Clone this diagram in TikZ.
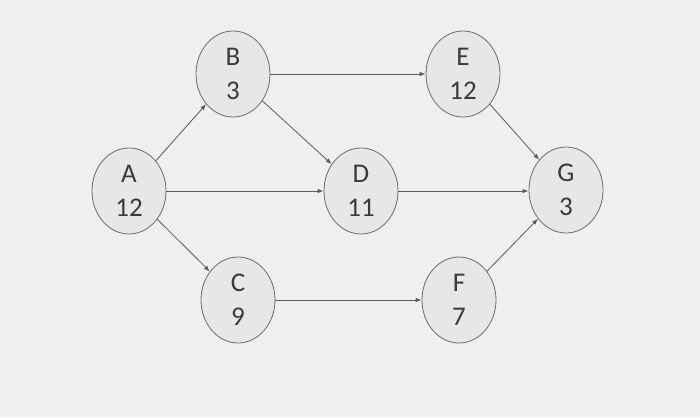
\documentclass[tikz,border=0pt]{standalone}
\usepackage{fontspec}
\setmainfont{Carlito}
\usetikzlibrary{arrows.meta,shapes.geometric}
\definecolor{bgc}{HTML}{EEF0EE}
\definecolor{nodefill}{HTML}{E6E8E6}
\definecolor{nodeline}{HTML}{6A6A6A}
\definecolor{edgec}{HTML}{5A5A5A}
\definecolor{txt}{HTML}{3A3A3A}
\tikzset{
  evt/.style={ellipse, draw=nodeline, line width=0.8pt, fill=nodefill,
    minimum width=74pt, minimum height=86pt, inner sep=0pt,
    align=center, font=\fontsize{27}{34}\selectfont, text=txt},
  link/.style={draw=edgec, line width=0.8pt, -{Latex[length=6pt,width=4.5pt]}}
}
\begin{document}
\begin{tikzpicture}[x=1pt,y=-1pt]
\fill[bgc] (0,0) rectangle (700,417);
\useasboundingbox (0,0) rectangle (700,417);
\node[evt] (A) at (129,191) {A\\12};
\node[evt] (B) at (233,74) {B\\3};
\node[evt] (C) at (238,300) {C\\9};
\node[evt] (D) at (361,191) {D\\11};
\node[evt] (E) at (463,74) {E\\12};
\node[evt] (F) at (459,300) {F\\7};
\node[evt] (G) at (566,190) {G\\3};
\draw[link] (A) -- (B);
\draw[link] (A) -- (D);
\draw[link] (A) -- (C);
\draw[link] (B) -- (D);
\draw[link] (B.east) -- (E.west);
\draw[link] (D.east) -- (D.east -| G.west);
\draw[link] (C.east) -- (F.west);
\draw[link] (E) -- (G);
\draw[link] (F) -- (G);
\end{tikzpicture}
\end{document}
